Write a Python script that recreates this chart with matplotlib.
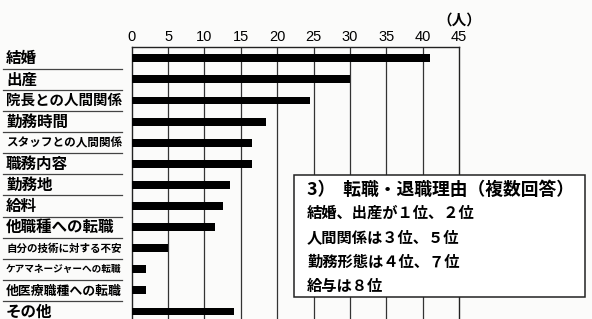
import numpy as np
import matplotlib
matplotlib.use("Agg")
import matplotlib.pyplot as plt
from matplotlib.transforms import blended_transform_factory
from matplotlib.patches import Rectangle

plt.rcParams['font.family'] = ['Noto Sans CJK JP', 'DejaVu Sans']

# data (people, multiple answers)
reasons = ["結婚", "出産", "院長との人間関係", "勤務時間", "スタッフとの人間関係",
           "職務内容", "勤務地", "給料", "他職種への転職", "自分の技術に対する不安",
           "ケアマネージャーへの転職", "他医療職種への転職", "その他"]
counts = [41, 30, 24.5, 18.5, 16.5, 16.5, 13.5, 12.5, 11.5, 5, 2, 2, 14]
xticks = [0, 5, 10, 15, 20, 25, 30, 35, 40, 45]
unit_label = "（人）"
box_title = "3）  転職・退職理由（複数回答）"
box_lines = ["結婚、出産が１位、２位", "人間関係は３位、５位", "勤務形態は４位、７位", "給与は８位"]

W, H = 592, 319
fig = plt.figure(figsize=(W / 100, H / 100), dpi=100)
fig.patch.set_facecolor("#fbfbfa")

def px(x, y):
    # pixel coords (top-left origin) -> figure fraction
    return x / W, 1 - y / H

# axes: x 0 at px 131.7, 45 at px 459; top frame at px 47; bottom runs off the page
ax_left, ax_right, ax_top = 131.7, 459.0, 47.0
row0, row_step = 58.3, 21.1
ax = fig.add_axes([ax_left / W, 0, (ax_right - ax_left) / W, 1 - ax_top / H])
ax.set_facecolor("none")
n = len(reasons)
y = np.arange(n)
ax.set_xlim(0, 45)
y_bottom = (H - row0) / row_step
y_top = -(row0 - ax_top) / row_step
ax.set_ylim(y_bottom, y_top)

ax.barh(y, counts, height=0.37, color="black", zorder=3)
ax.set_xticks(xticks)
ax.set_xticklabels([str(t) for t in xticks], fontfamily="Liberation Sans", fontsize=10.5)
ax.xaxis.tick_top()
ax.tick_params(axis="x", length=0, pad=2)
ax.set_yticks([])
for t in xticks[1:-1]:
    ax.axvline(t, color="#333333", lw=0.9, zorder=1)
for side in ["top", "left", "right"]:
    ax.spines[side].set_color("#222222")
    ax.spines[side].set_linewidth(1.0)
ax.spines["bottom"].set_visible(False)

fx, fy = px(459, 20)
fig.text(fx, fy, unit_label, fontsize=10.5, ha="center", va="center", fontweight="bold")

# category labels with rules beneath, on the left
tr = blended_transform_factory(fig.transFigure, ax.transData)
for i, lab in enumerate(reasons):
    fs = min(11.2, 116 / len(lab) * 0.72)
    ax.text(6 / W, i, lab, transform=tr, fontsize=fs, fontweight="bold",
            ha="left", va="center", clip_on=False)
    ax.plot([3 / W, 122 / W], [i + 0.5, i + 0.5], transform=tr, color="#444444",
            lw=0.9, clip_on=False)

# annotation box
bx0, by0, bx1, by1 = 294, 175, 585, 297
fig.patches.append(Rectangle(px(bx0, by1), (bx1 - bx0) / W, (by1 - by0) / H,
                             transform=fig.transFigure, facecolor="white",
                             edgecolor="#222222", lw=1.1, zorder=5))
fx, fy = px(307, 190)
fig.text(fx, fy, box_title, fontsize=12.8, fontweight="bold", ha="left", va="center", zorder=6)
for k, line in enumerate(box_lines):
    fx, fy = px(307, 213 + k * 24.2)
    fig.text(fx, fy, line, fontsize=11, fontweight="bold", ha="left", va="center", zorder=6)

fig.savefig("out.png", dpi=100, facecolor=fig.get_facecolor())
